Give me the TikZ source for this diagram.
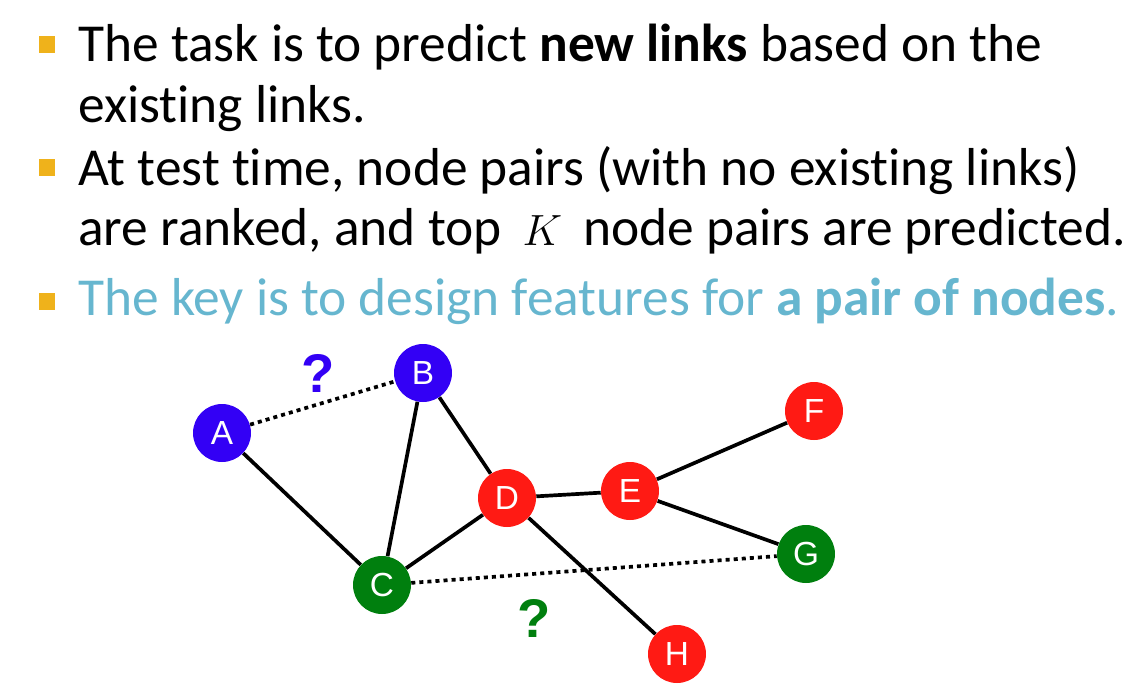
\documentclass[tikz,border=0pt]{standalone}
\usepackage{fontspec}
\setmainfont{Carlito}[Ligatures=NoCommon]
\newfontfamily\nodefont{Liberation Sans}
\usepackage{tikz}
\usetikzlibrary{positioning}
\definecolor{bulletgold}{HTML}{EFB21B}
\definecolor{keyblue}{HTML}{66B6CF}
\definecolor{nodeblue}{HTML}{3300F5}
\definecolor{nodered}{HTML}{FF1A14}
\definecolor{nodegreen}{HTML}{007F0E}

\begin{document}
\begin{tikzpicture}[x=0.02cm, y=-0.02cm,
    txt/.style={anchor=base west, inner sep=0pt, font=\fontsize{30.4}{36}\selectfont},
    bulletsq/.style={fill=bulletgold, minimum size=0.34cm, inner sep=0pt},
    vert/.style={circle, minimum size=1.16cm, inner sep=0pt, text=white, font=\nodefont\fontsize{19}{22}\selectfont},
    edge/.style={line width=2.1pt},
    guess/.style={line width=2.1pt, dash pattern=on 2.3pt off 2.3pt},
    qmark/.style={font=\nodefont\bfseries\fontsize{31}{34}\selectfont, inner sep=0pt}]
  \useasboundingbox (0,0) rectangle (1144,697);

  % bullets
  \node[bulletsq] (b1) at (47,44) {};
  \node[bulletsq] (b2) at (47,167) {};
  \node[bulletsq] (b3) at (47,301) {};

  \node[txt] (t1) at (78,61) {The task is to predict \textbf{new links} based on the};
  \node[txt] (t2) at (78,122) {existing links.};
  \node[txt] (t3) at (78,185) {At test time, node pairs (with no existing links)};
  \node[txt] (t4) at (78,245) {are ranked, and top \,$K$\, node pairs are predicted.};
  \node[txt, text=keyblue] (t5) at (78,315) {The key is to design features for \textbf{a pair of nodes}.};

  % graph
  \node[vert, fill=nodeblue] (A) at (222,433) {A};
  \node[vert, fill=nodeblue] (B) at (423,373) {B};
  \node[vert, fill=nodegreen] (C) at (382,585) {C};
  \node[vert, fill=nodered] (D) at (507,498) {D};
  \node[vert, fill=nodered] (E) at (630,491) {E};
  \node[vert, fill=nodered] (F) at (814,411) {F};
  \node[vert, fill=nodegreen] (G) at (806,554) {G};
  \node[vert, fill=nodered] (H) at (677,654) {H};

  \draw[edge] (A) -- (C);
  \draw[edge] (B) -- (C);
  \draw[edge] (B) -- (D);
  \draw[edge] (C) -- (D);
  \draw[edge] (D) -- (E);
  \draw[edge] (D) -- (H);
  \draw[edge] (E) -- (F);
  \draw[edge] (E) -- (G);
  \draw[guess] (A) -- (B);
  \draw[guess] (C) -- (G);

  \node[qmark, text=nodeblue] (q1) at (318,373) {?};
  \node[qmark, text=nodegreen] (q2) at (534,618) {?};
\end{tikzpicture}
\end{document}
